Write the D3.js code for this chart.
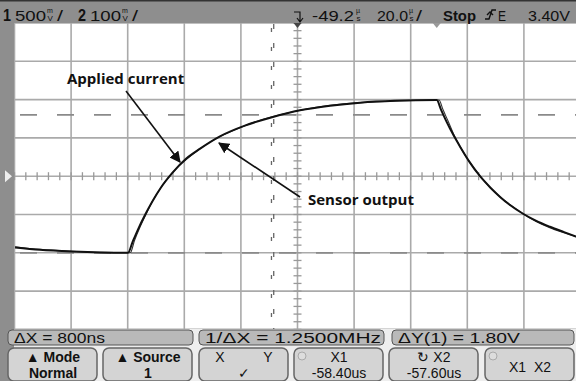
<!DOCTYPE html>
<html>
<head>
<meta charset="utf-8">
<script src="https://cdn.jsdelivr.net/npm/d3@7"></script>
<style>
  body { margin: 0; background: #fff; }
  svg { display: block; }
  .scope { font-family: "Liberation Sans", Arial, sans-serif; fill: #111; }
  .note { font-family: "Open Sans", "Noto Sans", sans-serif; font-weight: bold; font-size: 15px; fill: #111; }
</style>
</head>
<body>
<svg id="chart0"></svg>
<script>
// scope settings
var centerUs = -49.2;      // horizontal delay
var usPerDiv = 20.0;
var voltsPerDiv = 0.5;     // channel 1
var cursorX = [-58.40, -57.60];
var cursorY = [-1.0, 0.80];

// sensor output, channel 1 (time in us, volts)
var sensorT = [-149.0, -140.2, -128.9, -119.0, -109.1, -107.5, -105.5, -103.0, -100.5, -97.5,
  -93.5, -88.5, -83.6, -76.6, -67.8, -58.2, -48.3, -37.7, -27.1, -14.7, 0.0,
  1.5, 3.5, 6.0, 8.5, 11.5, 15.3, 19.0, 22.4, 26.0, 30.5, 35.0, 40.0, 45.0, 49.4];
var sensorV = [-0.93, -0.96, -0.983, -0.996, -1.0, -0.86, -0.69, -0.50, -0.33, -0.15,
  0.04, 0.23, 0.36, 0.52, 0.66, 0.77, 0.86, 0.92, 0.96, 0.985, 0.995,
  0.87, 0.71, 0.53, 0.37, 0.19, 0.0, -0.15, -0.27, -0.38, -0.49, -0.58, -0.66, -0.73, -0.79];

// applied current, channel 2 (scaled onto the same grid)
var currentT = [-149.0, -140.2, -128.9, -119.0, -108.3, -106.8, -104.8, -102.5, -100.5, -97.5,
  -93.5, -83.6, -67.8, -48.3, -27.1, 0.8,
  2.2, 4.0, 6.2, 8.5, 15.3, 30.5, 49.4];
var currentV = [-0.92, -0.955, -0.98, -0.995, -1.0, -0.84, -0.66, -0.48, -0.33, -0.15,
  0.04, 0.36, 0.66, 0.86, 0.96, 0.995,
  0.87, 0.72, 0.53, 0.37, 0.0, -0.49, -0.79];

var topLeft = [{n: '1', v: '500'}, {n: '2', v: '100'}];
var readouts = ['\u0394X = 800ns', '1/\u0394X = 1.2500MHz', '\u0394Y(1) = 1.80V'];
var softkeys = [
  {a: '\u25B2 Mode', b: 'Normal'},
  {a: '\u25B2 Source', b: '1'},
  {a: 'X          Y', b: '\u2713'},
  {a: 'X1', b: '-58.40us'},
  {a: '\u21BB X2', b: '-57.60us'},
  {a: 'X1  X2', b: ''}
];

var W = 576, H = 381;
var svg = d3.select('#chart0').attr('width', W).attr('height', H);

var x_conv = d3.scaleLinear()
  .domain([centerUs - 5 * usPerDiv, centerUs + 5 * usPerDiv])
  .range([14.5, 580.5]);
var y_conv = d3.scaleLinear()
  .domain([-4 * voltsPerDiv, 4 * voltsPerDiv])
  .range([329.4, 23]);

// screen background
svg.append('rect').attr('x', 0).attr('y', 0).attr('width', W).attr('height', H).attr('fill', '#fff');

var gridX = d3.range(-5, 6).map(function(k) { return centerUs + k * usPerDiv; });
var gridY = d3.range(-4, 5).map(function(k) { return k * voltsPerDiv; });

svg.selectAll('line.gx').data(gridX).enter().append('line')
  .attr('x1', function(d) { return x_conv(d); }).attr('x2', function(d) { return x_conv(d); })
  .attr('y1', 23).attr('y2', 330)
  .attr('stroke', '#aaa').attr('stroke-width', 1.6);
svg.selectAll('line.gy').data(gridY).enter().append('line')
  .attr('x1', 14).attr('x2', W)
  .attr('y1', function(d) { return y_conv(d); }).attr('y2', function(d) { return y_conv(d); })
  .attr('stroke', '#aaa').attr('stroke-width', 1.6);

// minor ticks on the centre axes
var ticksX = d3.range(-25, 26).map(function(k) { return centerUs + k * usPerDiv / 5; });
var ticksY = d3.range(-20, 21).map(function(k) { return k * voltsPerDiv / 5; });
svg.selectAll('line.tx').data(ticksX).enter().append('line')
  .attr('x1', function(d) { return x_conv(d); }).attr('x2', function(d) { return x_conv(d); })
  .attr('y1', y_conv(0) - 4).attr('y2', y_conv(0) + 4)
  .attr('stroke', '#999').attr('stroke-width', 1.3);
svg.selectAll('line.ty').data(ticksY).enter().append('line')
  .attr('x1', x_conv(centerUs) - 4).attr('x2', x_conv(centerUs) + 4)
  .attr('y1', function(d) { return y_conv(d); }).attr('y2', function(d) { return y_conv(d); })
  .attr('stroke', '#999').attr('stroke-width', 1.3);

// Y cursors (long dashes)
svg.selectAll('line.cy').data(cursorY).enter().append('line')
  .attr('x1', 14).attr('x2', W)
  .attr('y1', function(d) { return y_conv(d); }).attr('y2', function(d) { return y_conv(d); })
  .attr('stroke', '#8a8a8a').attr('stroke-width', 1.8)
  .attr('stroke-dasharray', '17,20').attr('stroke-dashoffset', -6);

// X cursors (short broken marks)
svg.selectAll('line.cx').data(cursorX).enter().append('line')
  .attr('x1', function(d) { return x_conv(d); }).attr('x2', function(d) { return x_conv(d); })
  .attr('y1', 24).attr('y2', 329)
  .attr('stroke', '#666').attr('stroke-width', 1.3)
  .attr('stroke-dasharray', function(d, i) { return i ? '5,14' : '4,15'; })
  .attr('stroke-dashoffset', function(d, i) { return i ? 0 : -4; });

// traces
var line = d3.line()
  .x(function(d) { return x_conv(d[0]); })
  .y(function(d) { return y_conv(d[1]); })
  .curve(d3.curveMonotoneX);

svg.append('path').datum(d3.zip(currentT, currentV))
  .attr('d', line).attr('fill', 'none').attr('stroke', '#333').attr('stroke-width', 1.1);
svg.append('path').datum(d3.zip(sensorT, sensorV))
  .attr('d', line).attr('fill', 'none').attr('stroke', '#111').attr('stroke-width', 2);

// left frame strip and ground marker
svg.append('rect').attr('x', 0).attr('y', 0).attr('width', 14).attr('height', H).attr('fill', '#8e8e8e');
svg.append('path')
  .attr('d', 'M5,' + (y_conv(0) - 6) + 'L12,' + y_conv(0) + 'L5,' + (y_conv(0) + 6) + 'Z')
  .attr('fill', '#eee');

// top status bar
svg.append('rect').attr('x', 0).attr('y', 0).attr('width', W).attr('height', 23).attr('fill', '#8e8e8e');
svg.append('rect').attr('x', 0).attr('y', 0).attr('width', W).attr('height', 1.5).attr('fill', '#333');

var bar = svg.append('g').attr('class', 'scope');
function txt(g, x, y, s, size, len, bold) {
  var t = g.append('text').attr('x', x).attr('y', y).attr('font-size', size).text(s);
  if (len) t.attr('textLength', len).attr('lengthAdjust', 'spacingAndGlyphs');
  if (bold) t.attr('font-weight', 'bold');
  return t;
}
function unit(x0, a, b) {
  txt(bar, x0, 12.5, a, 7, 0, false);
  txt(bar, x0 + 0.5, 20.5, b, 8, 0, false);
}
topLeft.forEach(function(d, i) {
  var x0 = i ? 78 : 3;
  txt(bar, x0, 20.5, d.n, 16, 8, true);
  txt(bar, x0 + 12, 20.5, d.v, 14, 31, false);
  unit(x0 + 44, 'm', 'V');
  txt(bar, x0 + 54, 20.5, '/', 14, 6, false);
});
bar.append('path').attr('d', 'M294,12h6v9M297,18l3,4l3,-4').attr('fill', 'none').attr('stroke', '#111').attr('stroke-width', 1.2);
txt(bar, 312, 20.5, '-49.2', 14, 42, false);
unit(356, '\u00B5', 's');
txt(bar, 377, 20.5, '20.0', 14, 31, false);
unit(409, '\u00B5', 's');
txt(bar, 416, 20.5, '/', 14, 6, false);
txt(bar, 443, 20.5, 'Stop', 14, 33, true);
bar.append('path').attr('d', 'M485,19h4l3,-9h4M487,15l3,-3l3,3').attr('fill', 'none').attr('stroke', '#111').attr('stroke-width', 1.4);
txt(bar, 498, 20.5, 'E', 14, 8, false);
txt(bar, 528, 20.5, '3.40V', 14, 42, false);

// trigger / delay markers under the bar
svg.append('path').attr('d', 'M' + (x_conv(centerUs) - 4) + ',23h8l-4,5z').attr('fill', '#444');
svg.append('path').attr('d', 'M' + (x_conv(0) - 4) + ',23h8l-4,5z').attr('fill', '#999');

// annotations
var defs = svg.append('defs');
defs.append('marker').attr('id', 'ah').attr('viewBox', '0 0 10 10')
  .attr('refX', 9).attr('refY', 5).attr('markerWidth', 7).attr('markerHeight', 7)
  .attr('orient', 'auto')
  .append('path').attr('d', 'M0,0L10,5L0,10z').attr('fill', '#111');

svg.append('line').attr('x1', 126).attr('y1', 91).attr('x2', 180).attr('y2', 162)
  .attr('stroke', '#111').attr('stroke-width', 1.6).attr('marker-end', 'url(#ah)');
svg.append('line').attr('x1', 300).attr('y1', 197).attr('x2', 219).attr('y2', 143)
  .attr('stroke', '#111').attr('stroke-width', 1.6).attr('marker-end', 'url(#ah)');
svg.append('text').attr('class', 'note').attr('x', 67).attr('y', 84).text('Applied current');
svg.append('text').attr('class', 'note').attr('x', 308).attr('y', 205).text('Sensor output');

// softkey area
svg.append('rect').attr('x', 14).attr('y', 329).attr('width', W - 14).attr('height', H - 329).attr('fill', '#eeeeee');

var rBoxes = [[8, 185, 91], [199, 185, 176], [392, 182, 122]];
var rd = svg.selectAll('g.rd').data(readouts).enter().append('g').attr('class', 'scope');
rd.append('rect')
  .attr('x', function(d, i) { return rBoxes[i][0]; }).attr('y', 330)
  .attr('width', function(d, i) { return rBoxes[i][1]; }).attr('height', 15).attr('rx', 4)
  .attr('fill', '#b9b9b9').attr('stroke', '#555').attr('stroke-width', 1);
rd.append('text')
  .attr('x', function(d, i) { return rBoxes[i][0] + 6; }).attr('y', 343)
  .attr('font-size', 14)
  .attr('textLength', function(d, i) { return rBoxes[i][2]; })
  .attr('lengthAdjust', 'spacingAndGlyphs')
  .text(function(d) { return d; });

var kBoxes = [8, 103, 199, 294, 389, 485];
var sk = svg.selectAll('g.sk').data(softkeys).enter().append('g').attr('class', 'scope');
sk.append('rect')
  .attr('x', function(d, i) { return kBoxes[i]; }).attr('y', 348)
  .attr('width', 89).attr('height', 33).attr('rx', 6)
  .attr('fill', '#d4d4d4').attr('stroke', '#666').attr('stroke-width', 1.5);
sk.append('text')
  .attr('x', function(d, i) { return kBoxes[i] + 45; })
  .attr('y', function(d) { return d.b ? 362 : 372; })
  .attr('text-anchor', 'middle').attr('font-size', 14)
  .attr('font-weight', function(d, i) { return i < 2 ? 'bold' : 'normal'; })
  .style('white-space', 'pre')
  .text(function(d) { return d.a; });
sk.append('text')
  .attr('x', function(d, i) { return kBoxes[i] + 45; }).attr('y', 378)
  .attr('text-anchor', 'middle').attr('font-size', 14)
  .attr('font-weight', function(d, i) { return i < 2 ? 'bold' : 'normal'; })
  .text(function(d) { return d.b; });
// indicator dots on the cursor keys
[294, 485].forEach(function(x0) {
  svg.append('circle').attr('cx', x0 + 8).attr('cy', 356).attr('r', 4)
    .attr('fill', '#ddd').attr('stroke', '#aaa');
});
</script>
</body>
</html>
